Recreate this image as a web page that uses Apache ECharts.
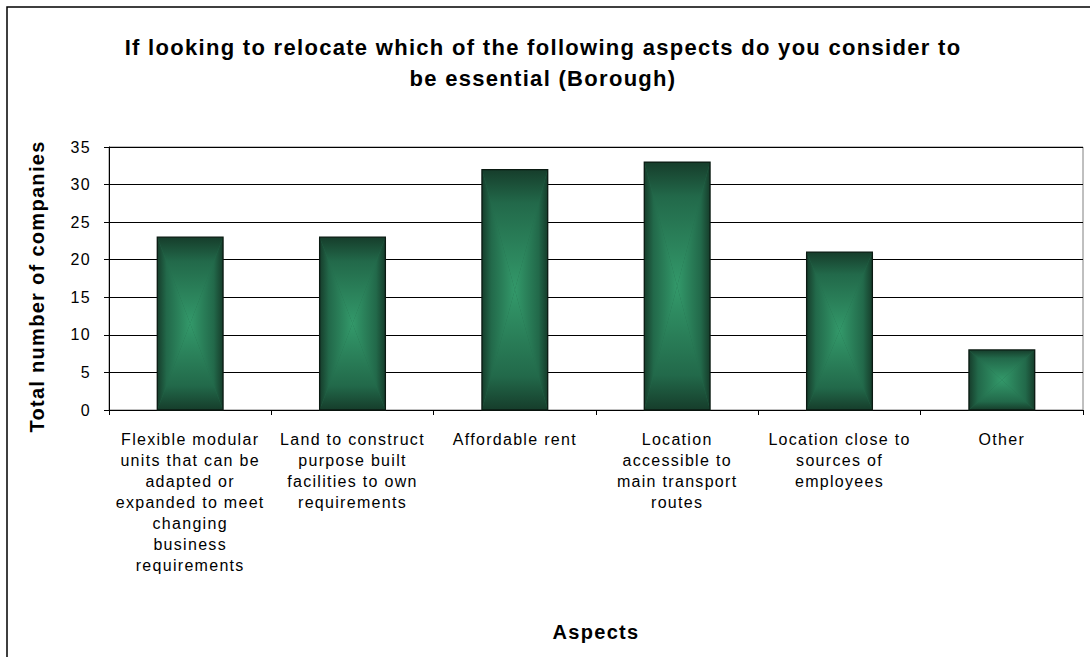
<!DOCTYPE html>
<html>
<head>
<meta charset="utf-8">
<script src="https://cdn.jsdelivr.net/npm/echarts@6/dist/echarts.min.js"></script>
<style>
html,body{margin:0;padding:0;background:#fff;}
#chart{width:1090px;height:657px;}
#chart svg text{letter-spacing:1.3px;}
</style>
</head>
<body>
<div id="chart"></div>
<script>
const titleText = 'If looking to relocate which of the following aspects do you consider to\nbe essential (Borough)';
const categories = [
  'Flexible modular units that can be adapted or expanded to meet changing business requirements',
  'Land to construct purpose built facilities to own requirements',
  'Affordable rent',
  'Location accessible to main transport routes',
  'Location close to sources of employees',
  'Other'
];
const tickLabels = [
  'Flexible modular\nunits that can be\nadapted or\nexpanded to meet\nchanging\nbusiness\nrequirements',
  'Land to construct\npurpose built\nfacilities to own\nrequirements',
  'Affordable rent',
  'Location\naccessible to\nmain transport\nroutes',
  'Location close to\nsources of\nemployees',
  'Other'
];
const values = [23, 23, 32, 33, 21, 8];
const yTicks = [0, 5, 10, 15, 20, 25, 30, 35];

const DARK = '#163d2b', MID = '#22694a', LIGHT = '#33996a';
function grad(x, y, x2, y2, rev) {
  const stops = [
    {offset: 0, color: DARK},
    {offset: 0.28, color: MID},
    {offset: 1, color: LIGHT}
  ];
  return {type: 'linear', x: rev ? x2 : x, y: rev ? y2 : y, x2: rev ? x : x2, y2: rev ? y : y2, colorStops: stops};
}

function renderItem(params, api) {
  const idx = api.value(0), v = api.value(1);
  const topPt = api.coord([idx, v]);
  const basePt = api.coord([idx, 0]);
  const bw = api.size([1, 0])[0] * 0.405;
  const l = topPt[0] - bw / 2, r = topPt[0] + bw / 2;
  const t = topPt[1], b = basePt[1];
  const cx = topPt[0], cy = (t + b) / 2;
  return {
    type: 'group',
    children: [
      {type: 'rect', shape: {x: l, y: t, width: r - l, height: b - t}, style: {fill: MID}},
      {type: 'polygon', shape: {points: [[l, t], [cx, cy], [l, b]]}, style: {fill: grad(0, 0, 1, 0, false)}},
      {type: 'polygon', shape: {points: [[r, t], [cx, cy], [r, b]]}, style: {fill: grad(0, 0, 1, 0, true)}},
      {type: 'polygon', shape: {points: [[l, t], [r, t], [cx, cy]]}, style: {fill: grad(0, 0, 0, 1, false)}},
      {type: 'polygon', shape: {points: [[l, b], [r, b], [cx, cy]]}, style: {fill: grad(0, 0, 0, 1, true)}},
      {type: 'rect', shape: {x: l, y: t, width: r - l, height: b - t}, style: {fill: 'none', stroke: '#0b1a12', lineWidth: 1.3}}
    ]
  };
}

const chart = echarts.init(document.getElementById('chart'), null, {renderer: 'svg'});
const FONT = '"Liberation Sans", Arial, sans-serif';
chart.setOption({
  animation: false,
  backgroundColor: '#fff',
  textStyle: {fontFamily: FONT},
  title: {
    text: titleText,
    left: 538,
    top: 27,
    textAlign: 'center',
    textStyle: {fontFamily: FONT, fontSize: 22, fontWeight: 'bold', color: '#000', lineHeight: 31}
  },
  graphic: [
    {type: 'rect', shape: {x: 7, y: 7, width: 1200, height: 800}, style: {fill: 'none', stroke: '#000', lineWidth: 1.5}, z: 100}
  ],
  grid: {left: 109, right: 7, top: 147, bottom: 247, show: true, borderColor: '#808080', borderWidth: 1, containLabel: false},
  xAxis: {
    type: 'category',
    data: categories,
    boundaryGap: true,
    name: 'Aspects',
    nameLocation: 'middle',
    nameGap: 212,
    nameTextStyle: {fontFamily: FONT, fontSize: 20, fontWeight: 'bold', color: '#000', verticalAlign: 'top'},
    axisLine: {lineStyle: {color: '#000', width: 1}},
    axisTick: {show: true, length: 5, alignWithLabel: false, lineStyle: {color: '#000'}},
    axisLabel: {
      interval: 0,
      margin: 19,
      fontFamily: FONT,
      fontSize: 16,
      color: '#000',
      lineHeight: 21,
      align: 'center',
      formatter: (val, i) => tickLabels[i]
    },
    splitLine: {show: false}
  },
  yAxis: {
    type: 'value',
    min: 0,
    max: 35,
    interval: 5,
    name: 'Total number of companies',
    nameLocation: 'middle',
    nameGap: 62,
    nameTextStyle: {fontFamily: FONT, fontSize: 20, fontWeight: 'bold', color: '#000', padding: [0, 16, 0, 0]},
    axisLine: {show: true, lineStyle: {color: '#000', width: 1}},
    axisTick: {show: true, length: 5, lineStyle: {color: '#000'}},
    axisLabel: {margin: 18, fontFamily: FONT, fontSize: 16, color: '#000', padding: [5, 0, 0, 0],
      formatter: v => (yTicks.indexOf(v) >= 0 ? String(v) : '')},
    splitLine: {show: true, lineStyle: {color: '#000', width: 1}}
  },
  series: [{
    type: 'custom',
    renderItem: renderItem,
    encode: {x: 0, y: 1},
    data: values.map((v, i) => [i, v]),
    z: 5
  }]
});
</script>
</body>
</html>
